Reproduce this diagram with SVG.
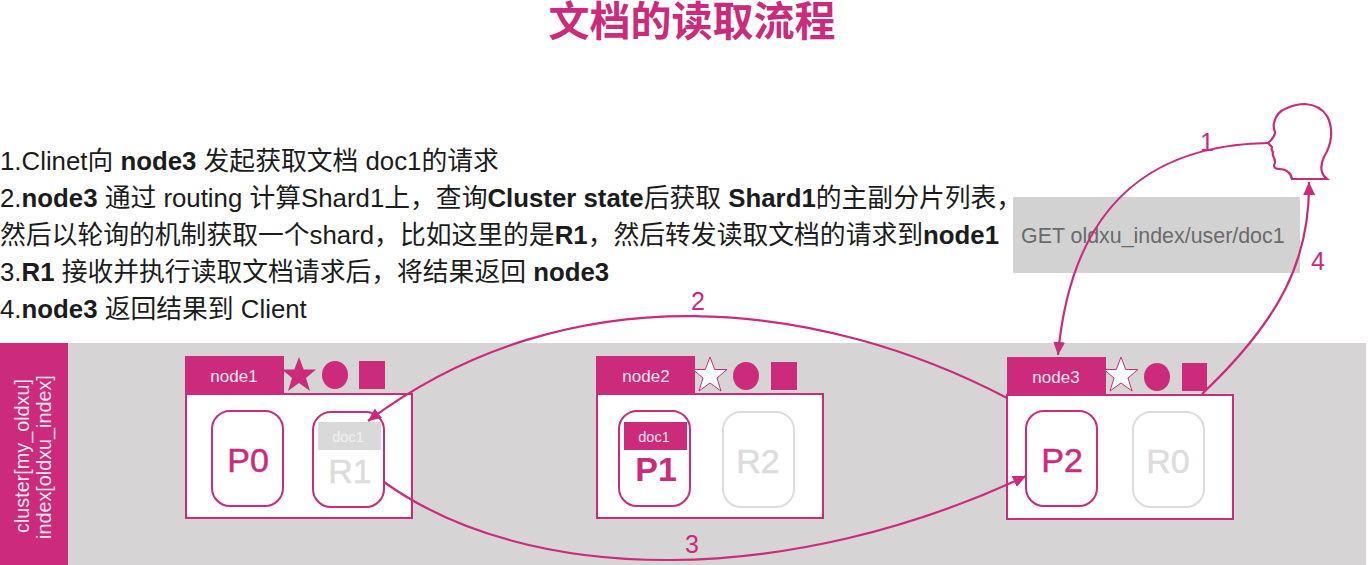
<svg xmlns="http://www.w3.org/2000/svg" width="1368" height="565" viewBox="0 0 1368 565">
<style>
text{font-family:"Liberation Sans","Noto Sans CJK SC",sans-serif}
.t{font-size:25.8px;fill:#1c1c1c}
.t tspan.b{font-weight:700}
.box{fill:#fff;stroke:#cc2a7a;stroke-width:2}
.tab,.sym{fill:#cc2a7a}
.wstar{fill:#fff;stroke:#cc2a7a;stroke-width:1}
.tabt{font-size:17px;fill:#f7e4ee;text-anchor:middle}
.sp{fill:#fff;stroke:#cc2a7a;stroke-width:2}
.sr{fill:#fff;stroke:#dcdcdc;stroke-width:2}
.big{font-size:34px;text-anchor:middle;stroke-width:.5}
.pk{fill:#cc2a7a;stroke:#cc2a7a}.gy{fill:#dcdcdc;stroke:#dcdcdc}
.doc{font-size:14.5px;text-anchor:middle}
.c{fill:none;stroke:#cc2a7a;stroke-width:2.2}
.n{font-size:25px;fill:#cc2a7a;text-anchor:middle}
</style>
<defs>
<marker id="a" markerUnits="userSpaceOnUse" markerWidth="16" markerHeight="14" refX="13" refY="6" orient="auto"><path d="M0 0L13 6L0 12Z" fill="#cc2a7a"/></marker>
<polygon id="star" points="0,-18 4.7,-5.5 17,-5.5 7,3 11,16 0,8 -11,16 -7,3 -17,-5.5 -4.7,-5.5"/>
</defs>
<text id="title" x="692" y="36" font-size="41" font-weight="700" fill="#cc2a7a" text-anchor="middle">文档的读取流程</text>
<g id="steps">
<text class="t" x="0" y="170">1.Clinet向 <tspan class="b">node3</tspan> 发起获取文档 doc1的请求</text>
<text class="t" x="0" y="207">2.<tspan class="b">node3</tspan> 通过 routing 计算Shard1上，查询<tspan class="b">Cluster state</tspan>后获取 <tspan class="b">Shard1</tspan>的主副分片列表，</text>
<text class="t" x="0" y="244">然后以轮询的机制获取一个shard，比如这里的是<tspan class="b">R1</tspan>，然后转发读取文档的请求到<tspan class="b">node1</tspan></text>
<text class="t" x="0" y="281">3.<tspan class="b">R1</tspan> 接收并执行读取文档请求后，将结果返回 <tspan class="b">node3</tspan></text>
<text class="t" x="0" y="318">4.<tspan class="b">node3</tspan> 返回结果到 Client</text>
</g>
<g id="request"><rect x="1013" y="197" width="287" height="76" fill="#d3d2d3"/>
<text x="1021" y="243" font-size="21.4" fill="#6a6a6a">GET oldxu_index/user/doc1</text></g>
<g id="band"><rect x="0" y="343" width="1366" height="222" fill="#d6d4d5"/>
<rect x="0" y="343" width="68" height="222" fill="#cc2a7a"/>
<text transform="translate(29,533) rotate(-90)" font-size="19.8" fill="#f7e4ee">cluster[my_oldxu]</text>
<text transform="translate(51,539) rotate(-90)" font-size="19.8" fill="#f7e4ee">index[oldxu_index]</text></g>
<g id="node1">
<rect class="box" x="186" y="394" width="226" height="124"/>
<rect class="tab" x="185" y="356" width="99" height="39"/>
<text class="tabt" x="234" y="382">node1</text>
<use href="#star" x="299" y="375" class="tab"/>
<ellipse class="sym" cx="335" cy="375" rx="13" ry="14"/><rect class="sym" x="359" y="361" width="26" height="28"/>
<rect class="sp" x="212" y="411" width="71" height="95" rx="18"/>
<text class="big pk" x="248" y="472">P0</text>
<rect class="sp" x="313" y="412" width="71" height="95" rx="18"/>
<rect x="318" y="422" width="63" height="28" fill="#d9d9d9"/>
<text class="doc" x="348" y="442" fill="#f1f1f1">doc1</text>
<text class="big gy" x="350" y="483">R1</text>
</g>
<g id="node2">
<rect class="box" x="597" y="394" width="226" height="124"/>
<rect class="tab" x="596" y="356" width="99" height="39"/>
<text class="tabt" x="646" y="382">node2</text>
<use href="#star" x="710" y="375" class="wstar"/>
<ellipse class="sym" cx="746" cy="376" rx="13" ry="14"/><rect class="sym" x="771" y="362" width="26" height="28"/>
<rect class="sp" x="619" y="411" width="71" height="95" rx="18"/>
<rect x="624" y="422" width="63" height="28" fill="#cc2a7a"/>
<text class="doc" x="654" y="442" fill="#f7e4ee">doc1</text>
<text class="big pk" x="656" y="481" font-weight="700" style="stroke-width:0">P1</text>
<rect class="sr" x="723" y="412" width="71" height="95" rx="18"/>
<text class="big gy" x="758" y="473">R2</text>
</g>
<g id="node3">
<rect class="box" x="1007" y="395" width="226" height="124"/>
<rect class="tab" x="1007" y="357" width="99" height="39"/>
<text class="tabt" x="1056" y="383">node3</text>
<use href="#star" x="1121" y="375" class="wstar"/>
<ellipse class="sym" cx="1157" cy="377" rx="13" ry="14"/><rect class="sym" x="1182" y="363" width="25" height="28"/>
<rect class="sp" x="1026" y="411" width="71" height="95" rx="18"/>
<text class="big pk" x="1062" y="472">P2</text>
<rect class="sr" x="1133" y="412" width="71" height="95" rx="18"/>
<text class="big gy" x="1168" y="473">R0</text>
</g>
<g id="client"><path class="c" style="fill:#fff" d="M1327 179L1292 179Q1291 174 1288 172Q1285 169 1279 169Q1274 169 1274 165Q1276 162 1274 158Q1272 154 1273 152Q1271 150 1272 147L1268 143Q1275 137 1275 132Q1273 127 1274 123Q1276 112 1287 108Q1296 104 1305 104Q1320 105 1327 116Q1332 125 1331 137Q1330 147 1324 157Q1320 165 1322 172Q1323 176 1327 179Z"/></g>
<g id="connectors">
<path class="c" marker-end="url(#a)" d="M1268 143C1155 145 1072 200 1058 355"/>
<path class="c" marker-end="url(#a)" d="M1202 394C1280 320 1310 260 1309 182"/>
<path class="c" marker-end="url(#a)" d="M1007 398C820 300 570 270 368 421"/>
<path class="c" marker-end="url(#a)" d="M384 482C530 587 790 587 1026 476"/>
</g>
<g id="labels">
<text class="n" x="1207" y="151">1</text>
<text class="n" x="698" y="310">2</text>
<text class="n" x="692" y="553">3</text>
<text class="n" x="1318" y="270">4</text>
</g>
</svg>
